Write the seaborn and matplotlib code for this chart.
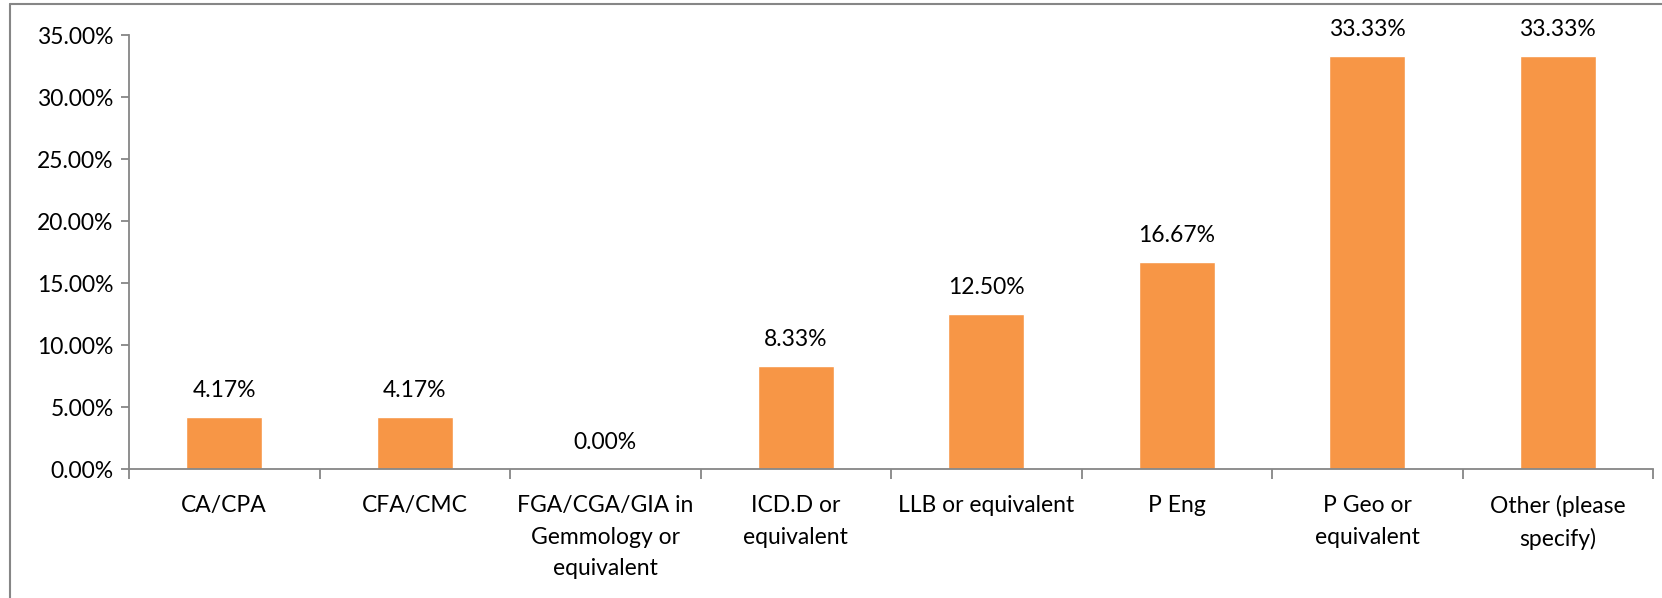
import matplotlib
matplotlib.use("Agg")
import matplotlib.pyplot as plt
import seaborn as sns
import pandas as pd
import numpy as np
from matplotlib.lines import Line2D
from matplotlib.ticker import FuncFormatter, FixedLocator

categories = ["CA/CPA", "CFA/CMC", "FGA/CGA/GIA in\nGemmology or\nequivalent",
              "ICD.D or\nequivalent", "LLB or equivalent", "P Eng",
              "P Geo or\nequivalent", "Other (please\nspecify)"]
values = [0.0417, 0.0417, 0.0, 0.0833, 0.125, 0.1667, 0.3333, 0.3333]
labels = ["4.17%", "4.17%", "0.00%", "8.33%", "12.50%", "16.67%", "33.33%", "33.33%"]

sns.set_style("white")
plt.rcParams['font.family'] = ['Lato', 'DejaVu Sans']

df = pd.DataFrame({"cat": categories, "val": values})

FS = 16.5
fig = plt.figure(figsize=(16.62, 5.98), dpi=100)
ax = fig.add_axes([129/1662, 1-469/598, (1653-129)/1662, (469-35)/598])
sns.barplot(data=df, x="cat", y="val", color="#F79646", width=0.4, ax=ax, saturation=1)

ax.set_ylim(0, 0.35)
ax.set_xlim(-0.5, len(categories)-0.5)
ax.set_yticks(np.arange(0, 0.3501, 0.05))
ax.yaxis.set_major_formatter(FuncFormatter(lambda v, p: f"{v*100:.2f}%"))
ax.set_xlabel("")
ax.set_ylabel("")

gray = "#868686"
for s in ["top", "right"]:
    ax.spines[s].set_visible(False)
for s in ["left", "bottom"]:
    ax.spines[s].set_color(gray)
    ax.spines[s].set_linewidth(1.3)

ax.tick_params(axis="y", which="major", direction="out", length=6, width=1.3, color=gray,
               labelsize=FS, labelcolor="black", pad=5, left=True)
ax.tick_params(axis="x", which="major", length=0, labelsize=FS, labelcolor="black", pad=19)
for t in ax.get_xticklabels():
    t.set_linespacing(1.6)
ax.xaxis.set_minor_locator(FixedLocator(np.arange(-0.5, len(categories), 1.0)))
ax.tick_params(axis="x", which="minor", direction="out", length=7, width=1.3, color=gray, bottom=True)

for i, (v, lab) in enumerate(zip(values, labels)):
    ax.annotate(lab, (i, v), xytext=(0, 19), textcoords="offset points",
                ha="center", va="center", fontsize=FS, color="black")

fig.add_artist(Line2D([10/1662, 1.01], [1-4/598, 1-4/598], transform=fig.transFigure, color=gray, lw=1.5))
fig.add_artist(Line2D([10/1662, 10/1662], [-0.01, 1-4/598], transform=fig.transFigure, color=gray, lw=1.5))

fig.savefig("out.png", dpi=100)
